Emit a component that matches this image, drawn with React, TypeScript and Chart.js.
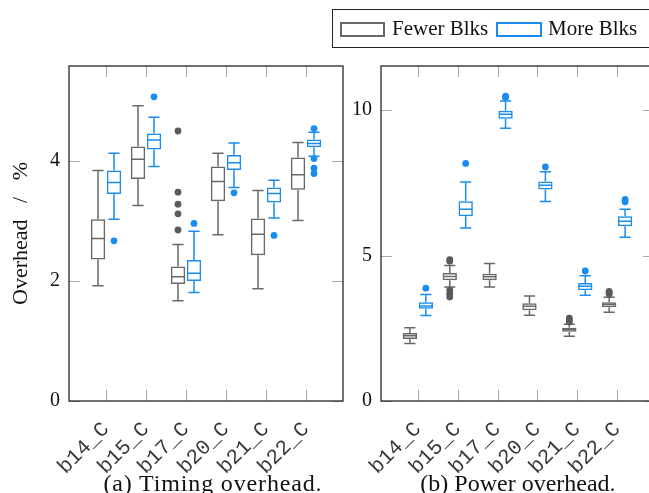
import React, { useEffect, useRef } from 'react';
import { Chart, registerables } from 'chart.js';

Chart.register(...registerables);

// ---------- data ----------
const categories = ['b14_C', 'b15_C', 'b17_C', 'b20_C', 'b21_C', 'b22_C'];
const seriesNames = ['Fewer Blks', 'More Blks'];

// (a) Timing overhead — Fewer Blks
const timingFewerMin = [1.92, 3.26, 1.67, 2.77, 1.87, 3.01];
const timingFewerQ1 = [2.36, 3.70, 1.95, 3.33, 2.43, 3.52];
const timingFewerMedian = [2.71, 4.03, 2.07, 3.66, 2.78, 3.77];
const timingFewerQ3 = [3.03, 4.24, 2.24, 3.91, 3.04, 4.06];
const timingFewerMax = [3.84, 4.92, 2.61, 4.13, 3.51, 4.31];
const timingFewerOutliers = [[], [], [4.5, 3.48, 3.28, 3.12, 2.85], [], [], []];

// (a) Timing overhead — More Blks
const timingMoreMin = [3.03, 3.91, 1.81, 3.56, 3.05, 4.08];
const timingMoreQ1 = [3.45, 4.19, 2.0, 3.85, 3.31, 4.23];
const timingMoreMedian = [3.64, 4.35, 2.13, 3.97, 3.46, 4.29];
const timingMoreQ3 = [3.84, 4.46, 2.35, 4.1, 3.56, 4.36];
const timingMoreMax = [4.13, 4.73, 2.83, 4.3, 3.68, 4.48];
const timingMoreOutliers = [[2.67], [5.07], [2.96], [3.47], [2.76], [4.54, 4.04, 3.88, 3.79]];

// (b) Power overhead — Fewer Blks
const powerFewerMin = [1.98, 3.92, 3.92, 2.95, 2.23, 3.05];
const powerFewerQ1 = [2.13, 4.15, 4.15, 3.12, 2.38, 3.22];
const powerFewerMedian = [2.24, 4.28, 4.27, 3.26, 2.46, 3.32];
const powerFewerQ3 = [2.34, 4.4, 4.38, 3.36, 2.52, 3.4];
const powerFewerMax = [2.52, 4.66, 4.73, 3.61, 2.64, 3.57];
const powerFewerOutliers = [[], [4.86, 4.81, 3.81, 3.69, 3.58], [], [], [2.85, 2.79, 2.72], [3.77, 3.73, 3.68]];

// (b) Power overhead — More Blks
const powerMoreMin = [2.94, 5.95, 9.38, 6.86, 3.64, 5.63];
const powerMoreQ1 = [3.17, 6.35, 9.71, 7.27, 3.81, 6.01];
const powerMoreMedian = [3.27, 6.59, 9.86, 7.42, 3.95, 6.18];
const powerMoreQ3 = [3.4, 6.87, 9.98, 7.55, 4.06, 6.35];
const powerMoreMax = [3.66, 7.53, 10.32, 7.88, 4.31, 6.59];
const powerMoreOutliers = [[3.88], [8.17], [10.48, 10.44], [8.05], [4.47], [6.93, 6.85]];

const timingTicks = [0, 2, 4];
const powerTicks = [0, 5, 10];

// ---------- styles ----------
const GRAY = '#686868';
const GRAY_DOT = '#5a5a5a';
const BLUE = '#1a8cf0';
const SERIF = '"Liberation Serif", "Times New Roman", serif';
const MONO = '"Liberation Mono", "DejaVu Sans Mono", monospace';

type Stats = { min: number[]; q1: number[]; med: number[]; q3: number[]; max: number[]; out: number[][] };

const boxPlugin = {
  id: 'boxExtras',
  afterDatasetsDraw(chart: any) {
    const ctx = chart.ctx;
    const y = chart.scales.y;
    chart.data.datasets.forEach((ds: any, d: number) => {
      const meta = chart.getDatasetMeta(d);
      const st: Stats = ds.stats;
      const color = ds.borderColor;
      const dot = ds.dotColor;
      meta.data.forEach((bar: any, i: number) => {
        const { x, width } = bar.getProps(['x', 'width'], true);
        const half = width / 2 - 0.75;
        const cap = width * 0.39;
        const pMin = y.getPixelForValue(st.min[i]);
        const pQ1 = y.getPixelForValue(st.q1[i]);
        const pMed = y.getPixelForValue(st.med[i]);
        const pQ3 = y.getPixelForValue(st.q3[i]);
        const pMax = y.getPixelForValue(st.max[i]);
        ctx.save();
        ctx.strokeStyle = color;
        ctx.lineWidth = 1.5;
        ctx.beginPath();
        ctx.moveTo(x, pQ3);
        ctx.lineTo(x, pMax);
        ctx.moveTo(x - cap, pMax);
        ctx.lineTo(x + cap, pMax);
        ctx.moveTo(x, pQ1);
        ctx.lineTo(x, pMin);
        ctx.moveTo(x - cap, pMin);
        ctx.lineTo(x + cap, pMin);
        ctx.moveTo(x - half, pMed);
        ctx.lineTo(x + half, pMed);
        ctx.stroke();
        ctx.fillStyle = dot;
        st.out[i].forEach((v) => {
          ctx.beginPath();
          ctx.arc(x, y.getPixelForValue(v), 3.4, 0, Math.PI * 2);
          ctx.fill();
        });
        ctx.restore();
      });
    });
  },
  afterDraw(chart: any) {
    const ctx = chart.ctx;
    const { left, right, top, bottom } = chart.chartArea;
    const xs = chart.scales.x;
    const ys = chart.scales.y;
    const L = 11;
    ctx.save();
    ctx.strokeStyle = '#a8a8a8';
    ctx.lineWidth = 1;
    ctx.beginPath();
    xs.ticks.forEach((t: any) => {
      const px = Math.round(xs.getPixelForValue(t.value)) + 0.5;
      ctx.moveTo(px, bottom);
      ctx.lineTo(px, bottom - L);
      ctx.moveTo(px, top);
      ctx.lineTo(px, top + L);
    });
    ys.ticks.forEach((t: any) => {
      const py = Math.round(ys.getPixelForValue(t.value)) + 0.5;
      ctx.moveTo(left, py);
      ctx.lineTo(left + L, py);
      ctx.moveTo(right, py);
      ctx.lineTo(right - L, py);
    });
    ctx.stroke();
    ctx.strokeStyle = '#262626';
    ctx.lineWidth = 1.3;
    ctx.strokeRect(left, top, right - left, bottom - top);
    ctx.restore();
  },
};

type PanelProps = {
  fewer: Stats;
  more: Stats;
  yMax: number;
  yTicks: number[];
  yWidth: number;
  padRight: number;
  width: number;
  left: number;
  yTitle?: string;
};

function BoxPanel(p: PanelProps) {
  const ref = useRef<HTMLCanvasElement | null>(null);
  useEffect(() => {
    if (!ref.current) return;
    const mk = (st: Stats, name: string, color: string, dot: string) => ({
      label: name,
      data: categories.map((_, i) => ({ x: i, y: [st.q1[i], st.q3[i]] })),
      backgroundColor: 'rgba(255,255,255,0)',
      borderColor: color,
      borderWidth: 1.5,
      borderSkipped: false,
      stats: st,
      dotColor: dot,
    });
    const chart = new Chart(ref.current, {
      type: 'bar',
      data: {
        datasets: [mk(p.fewer, seriesNames[0], GRAY, GRAY_DOT), mk(p.more, seriesNames[1], BLUE, BLUE)] as any,
      },
      options: {
        animation: false,
        responsive: false,
        devicePixelRatio: 1,
        layout: { padding: { top: 66, right: p.padRight, left: 0, bottom: 0 } },
        plugins: { legend: { display: false }, tooltip: { enabled: false }, title: { display: false } },
        scales: {
          x: {
            type: 'linear',
            min: -0.925,
            max: 5.925,
            offset: false,
            grid: { display: false, drawTicks: false, offset: false },
            border: { display: false },
            ticks: {
              stepSize: 1,
              includeBounds: false,
              autoSkip: false,
              minRotation: 45,
              maxRotation: 45,
              padding: 16,
              color: '#3a3a3a',
              font: { family: MONO, size: 21 },
              callback: (v: any) => categories[v] ?? '',
            },
            afterFit: (s: any) => {
              s.height = 92;
            },
          },
          y: {
            min: 0,
            max: p.yMax,
            grid: { display: false, drawTicks: false },
            border: { display: false },
            ticks: {
              includeBounds: false,
              stepSize: p.yTicks[1] - p.yTicks[0],
              padding: 9,
              color: '#111',
              font: { family: SERIF, size: 20 },
              callback: (v: any) => (p.yTicks.includes(v) ? String(v) : ''),
            },
            title: p.yTitle
              ? { display: true, text: p.yTitle, color: '#111', font: { family: SERIF, size: 22 }, padding: { top: 8, bottom: 0 } }
              : { display: false },
            afterFit: (s: any) => {
              s.width = p.yWidth;
            },
          },
        },
      } as any,
      plugins: [boxPlugin],
    });
    return () => chart.destroy();
  }, []);
  return (
    <canvas
      ref={ref}
      width={p.width}
      height={493}
      style={{ position: 'absolute', left: p.left, top: 0, width: p.width, height: 493 }}
    />
  );
}

const timingFewer: Stats = { min: timingFewerMin, q1: timingFewerQ1, med: timingFewerMedian, q3: timingFewerQ3, max: timingFewerMax, out: timingFewerOutliers };
const timingMore: Stats = { min: timingMoreMin, q1: timingMoreQ1, med: timingMoreMedian, q3: timingMoreQ3, max: timingMoreMax, out: timingMoreOutliers };
const powerFewer: Stats = { min: powerFewerMin, q1: powerFewerQ1, med: powerFewerMedian, q3: powerFewerQ3, max: powerFewerMax, out: powerFewerOutliers };
const powerMore: Stats = { min: powerMoreMin, q1: powerMoreQ1, med: powerMoreMedian, q3: powerMoreQ3, max: powerMoreMax, out: powerMoreOutliers };

export default function App() {
  const textBase: React.CSSProperties = { position: 'absolute', fontFamily: SERIF, color: '#111', whiteSpace: 'pre', lineHeight: 1 };
  return (
    <div style={{ position: 'fixed', left: 0, top: 0, width: 649, height: 493, overflow: 'hidden', background: '#fff' }}>
      <BoxPanel fewer={timingFewer} more={timingMore} yMax={5.583} yTicks={timingTicks} yWidth={69} padRight={9} width={352} left={0} yTitle={'Overhead\u2002 /\u2002 %'} />
      <BoxPanel fewer={powerFewer} more={powerMore} yMax={11.52} yTicks={powerTicks} yWidth={41} padRight={9} width={323} left={340} />
      {/* legend */}
      <div style={{ position: 'absolute', left: 332, top: 9, width: 340, height: 39, border: '1.3px solid #262626', boxSizing: 'border-box' }} />
      <div style={{ position: 'absolute', left: 340, top: 22, width: 45, height: 15, border: `2px solid ${GRAY}`, boxSizing: 'border-box' }} />
      <div style={{ ...textBase, left: 392, top: 18, fontSize: 21 }}>{seriesNames[0]}</div>
      <div style={{ position: 'absolute', left: 496, top: 22, width: 46, height: 15, border: `2px solid ${BLUE}`, boxSizing: 'border-box' }} />
      <div style={{ ...textBase, left: 548, top: 18, fontSize: 21 }}>{seriesNames[1]}</div>
      {/* captions */}
      <div style={{ ...textBase, left: 63, width: 300, top: 471, fontSize: 24, textAlign: 'center', letterSpacing: 0.85 }}>(a) Timing overhead.</div>
      <div style={{ ...textBase, left: 368, width: 300, top: 471, fontSize: 24, textAlign: 'center' }}>(b) Power overhead.</div>
    </div>
  );
}
